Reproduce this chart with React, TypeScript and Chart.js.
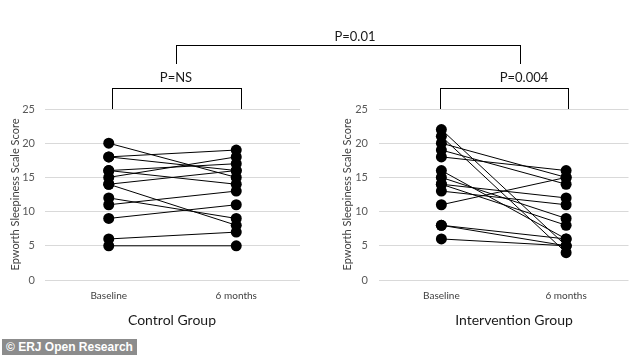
import React, { useEffect, useRef } from "react";
import { Chart, registerables } from "chart.js";

Chart.register(...registerables);

const categories = ["Baseline", "6 months"];
const yTicks = [0, 5, 10, 15, 20, 25];

const controlBaseline = [20, 18, 18, 16, 16, 15, 14, 14, 12, 11, 9, 6, 5];
const controlSixMonths = [15, 19, 16, 14, 17, 18, 16, 8, 9, 13, 11, 7, 5];

const interventionBaseline = [22, 21, 20, 19, 18, 16, 15, 14, 14, 13, 11, 8, 8, 6];
const interventionSixMonths = [5, 4, 15, 14, 16, 6, 9, 12, 8, 11, 15, 6, 5, 5];

const yTitle = "Epworth Sleepiness Scale Score";
const FONT = "Lato, 'Open Sans', sans-serif";

type PanelProps = {
  base: number[];
  six: number[];
  left: number;
  yWidth: number;
  padRight: number;
  tickPad: number;
  titlePad: number;
};

function Panel({ base, six, left, yWidth, padRight, tickPad, titlePad }: PanelProps) {
  const ref = useRef<HTMLCanvasElement | null>(null);
  useEffect(() => {
    if (!ref.current) return;
    const datasets = base.map((b, i) => ({
      label: "P" + (i + 1),
      data: [b, six[i]],
      borderColor: "#000",
      borderWidth: 1,
      backgroundColor: "#000",
      pointBackgroundColor: "#000",
      pointBorderColor: "#000",
      pointRadius: 5.5,
      pointBorderWidth: 0,
      tension: 0,
    }));
    const chart = new Chart(ref.current, {
      type: "line",
      data: { labels: categories, datasets },
      options: {
        animation: false,
        responsive: false,
        maintainAspectRatio: false,
        layout: { padding: { top: 109, right: padRight, bottom: 0, left: 0 } },
        plugins: { legend: { display: false }, tooltip: { enabled: false } },
        scales: {
          x: {
            type: "category",
            offset: true,
            grid: { display: false, drawTicks: false },
            border: { display: false },
            ticks: {
              padding: 10,
              color: "#404040",
              font: { family: FONT, size: 10 },
            },
            afterFit: (s: any) => {
              s.height = 75;
            },
          },
          y: {
            min: 0,
            max: 25,
            afterBuildTicks: (s: any) => {
              s.ticks = yTicks.map((v) => ({ value: v }));
            },
            grid: { color: "#d9d9d9", lineWidth: 1, drawTicks: false },
            border: { display: false },
            ticks: {
              padding: tickPad,
              color: "#595959",
              font: { family: FONT, size: 11 },
            },
            title: {
              display: true,
              text: yTitle,
              color: "#404040",
              font: { family: FONT, size: 11 },
              padding: { top: titlePad, bottom: 0 },
            },
            afterFit: (s: any) => {
              s.width = yWidth;
            },
          },
        },
      },
    });
    return () => chart.destroy();
  }, []);
  return (
    <canvas
      ref={ref}
      width={317}
      height={355}
      style={{ position: "absolute", left, top: 0, width: 317, height: 355 }}
    />
  );
}

const lineStyle = (l: number, t: number, w: number, h: number): React.CSSProperties => ({
  position: "absolute",
  left: l,
  top: t,
  width: w,
  height: h,
  borderTop: "1.5px solid #000",
  borderLeft: "1.5px solid #000",
  borderRight: "1.5px solid #000",
  boxSizing: "border-box",
});

const label = (text: string, cx: number, cy: number, size: number): React.ReactNode => (
  <div
    style={{
      position: "absolute",
      left: cx - 100,
      top: cy - size * 0.65,
      width: 200,
      textAlign: "center",
      fontFamily: FONT,
      fontSize: size,
      color: "#1a1a1a",
      lineHeight: "1.3",
      whiteSpace: "nowrap",
    }}
  >
    {text}
  </div>
);

export default function App() {
  return (
    <div
      style={{
        position: "absolute",
        left: 0,
        top: 0,
        width: 634,
        height: 355,
        background: "#fff",
        overflow: "hidden",
      }}
    >
      <Panel base={controlBaseline} six={controlSixMonths} left={0} yWidth={45} padRight={17} tickPad={10} titlePad={9} />
      <Panel base={interventionBaseline} six={interventionSixMonths} left={317} yWidth={62} padRight={5} tickPad={11} titlePad={24} />
      <div style={lineStyle(176, 45, 345, 19)} />
      <div style={lineStyle(112, 88, 130, 21)} />
      <div style={lineStyle(440, 88, 129, 21)} />
      {label("P=0.01", 355, 36, 13)}
      {label("P=NS", 176, 77, 13)}
      {label("P=0.004", 524, 77, 13)}
      {label("Control Group", 172, 320, 14)}
      {label("Intervention Group", 514, 320, 14)}
      <div
        style={{
          position: "absolute",
          left: 2,
          top: 339,
          height: 16,
          padding: "0 4px",
          background: "#8c8c8c",
          color: "#fff",
          fontFamily: "'Liberation Sans', Arial, sans-serif",
          fontWeight: "bold",
          fontSize: 12,
          lineHeight: "16px",
          whiteSpace: "nowrap",
        }}
      >
        © ERJ Open Research
      </div>
    </div>
  );
}
